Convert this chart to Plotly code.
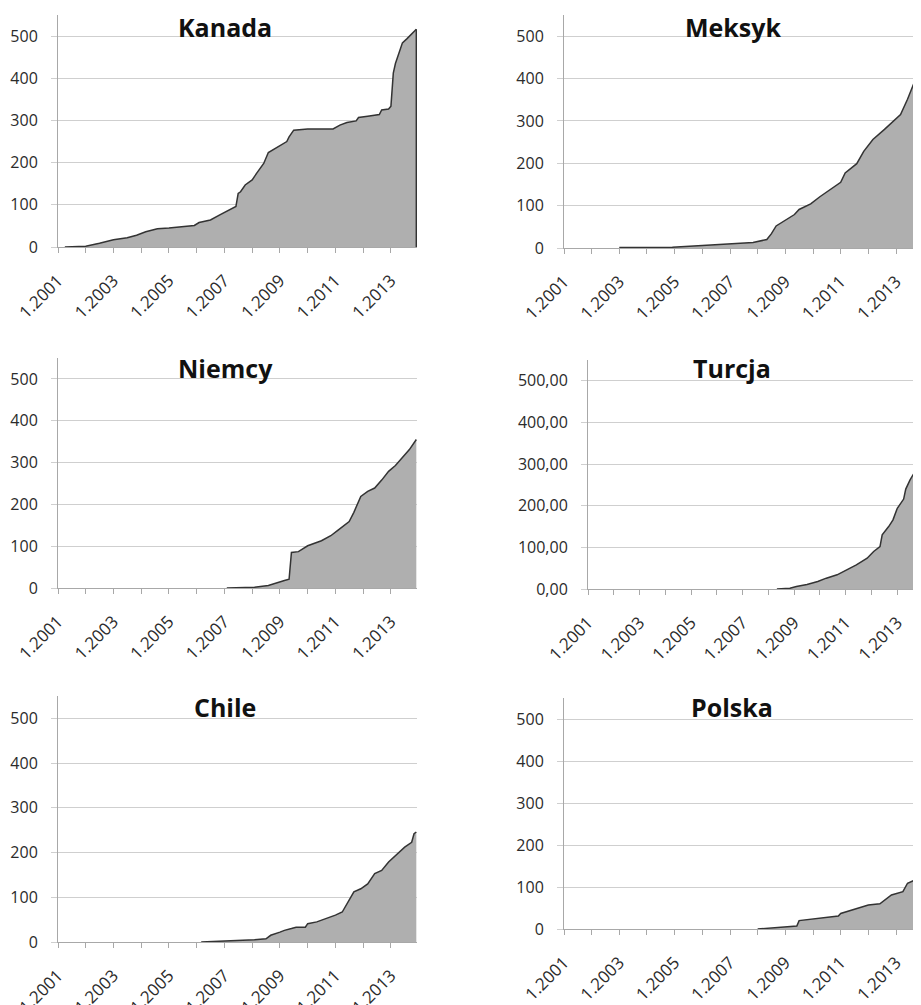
import plotly.graph_objects as go

# ---------------- data ----------------
kanada_dates = ["2001-04", "2002-01", "2002-07", "2003-01", "2003-07", "2003-11", "2004-03", "2004-08",
                "2005-01", "2005-06", "2005-12", "2006-02", "2006-07", "2006-11", "2007-01", "2007-03",
                "2007-06", "2007-07", "2007-08", "2007-10", "2008-01", "2008-03", "2008-06", "2008-08",
                "2008-11", "2009-01", "2009-04", "2009-05", "2009-07", "2010-01", "2010-12", "2011-03",
                "2011-06", "2011-10", "2011-11", "2012-03", "2012-08", "2012-09", "2012-12", "2013-01",
                "2013-02", "2013-03", "2013-05", "2013-06", "2013-08", "2013-10", "2013-12"]
kanada_values = [0, 2, 9, 17, 22, 28, 36, 43,
                 45, 48, 51, 58, 64, 76, 82, 88,
                 96, 127, 131, 147, 159, 175, 198, 224,
                 234, 240, 250, 261, 277, 280, 280, 289,
                 295, 299, 307, 310, 314, 325, 327, 334,
                 412, 435, 467, 484, 494, 506, 516]

meksyk_dates = ["2003-01", "2004-12", "2006-01", "2007-01", "2007-11", "2008-05", "2008-07", "2008-09",
                "2009-01", "2009-05", "2009-07", "2009-12", "2010-04", "2010-08", "2011-01", "2011-03",
                "2011-08", "2011-11", "2012-03", "2012-08", "2012-12", "2013-03", "2013-06", "2013-09",
                "2013-11", "2013-12"]
meksyk_values = [1, 2, 6, 10, 13, 20, 34, 52,
                 66, 79, 91, 104, 121, 137, 155, 177,
                 199, 228, 256, 280, 300, 315, 351, 391,
                 420, 440]

niemcy_dates = ["2007-02", "2008-02", "2008-08", "2008-12", "2009-03", "2009-05", "2009-06", "2009-09",
                "2010-01", "2010-07", "2010-11", "2011-02", "2011-07", "2011-09", "2011-12", "2012-03",
                "2012-06", "2012-09", "2012-12", "2013-03", "2013-07", "2013-09", "2013-12"]
niemcy_values = [0, 2, 6, 14, 18, 21, 85, 87,
                 101, 113, 125, 138, 159, 181, 219, 231,
                 239, 258, 279, 293, 319, 331, 355]

turcja_dates = ["2008-05", "2008-11", "2009-02", "2009-07", "2009-12", "2010-04", "2010-09", "2011-01",
                "2011-06", "2011-11", "2012-02", "2012-05", "2012-06", "2012-09", "2012-11", "2013-01",
                "2013-04", "2013-05", "2013-07", "2013-09", "2013-12"]
turcja_values = [0, 2, 6, 11, 18, 26, 34, 44,
                 58, 74, 90, 102, 130, 150, 166, 194,
                 216, 240, 262, 280, 305]

chile_dates = ["2006-03", "2007-03", "2008-02", "2008-07", "2008-09", "2009-01", "2009-03", "2009-06",
               "2009-08", "2009-12", "2010-01", "2010-05", "2010-09", "2011-01", "2011-04", "2011-06",
               "2011-09", "2011-12", "2012-03", "2012-06", "2012-09", "2012-12", "2013-04", "2013-07",
               "2013-10", "2013-11", "2013-12"]
chile_values = [0, 2, 5, 7, 15, 22, 26, 30,
                33, 33, 41, 45, 52, 60, 67, 86,
                112, 119, 130, 153, 160, 179, 197, 212,
                223, 242, 246]

polska_dates = ["2008-01", "2009-01", "2009-06", "2009-07", "2009-12", "2010-06", "2010-12", "2011-01",
                "2011-06", "2011-10", "2012-01", "2012-06", "2012-08", "2012-11", "2013-04", "2013-06",
                "2013-09", "2013-11", "2013-12"]
polska_values = [0, 4, 7, 20, 23, 28, 31, 37,
                 45, 53, 57, 60, 69, 81, 89, 109,
                 116, 125, 130]

x_tick_dates = ["2001-01-01", "2003-01-01", "2005-01-01", "2007-01-01", "2009-01-01", "2011-01-01", "2013-01-01"]
x_tick_labels = ["1.2001", "1.2003", "1.2005", "1.2007", "1.2009", "1.2011", "1.2013"]
y_tick_values = [0, 100, 200, 300, 400, 500]
y_tick_labels = ["0", "100", "200", "300", "400", "500"]
y_tick_labels_dec = ["0,00", "100,00", "200,00", "300,00", "400,00", "500,00"]

# ---------------- layout (pixels on screen) ----------------
OFF = 8  # page body margin shifts the figure on screen
W, H = 921 - OFF, 1005 - OFF
FONT = "Open Sans"
FILL = "#afafaf"
LINE = "#333333"
GRID = "#cfcfcf"
AXIS = "#a8a8a8"
TXT = "#2b2b2b"

panels = [
    # name, dates, values, x0px, x1px, zero_px, top_px, range_end, tick labels, title center x, title center y
    ("Kanada", kanada_dates, kanada_values, 58, 417, 247, 15, "2013-12-10", y_tick_labels, 225, 27),
    ("Meksyk", meksyk_dates, meksyk_values, 564, 921, 248, 15, "2013-11-26", y_tick_labels, 733, 27),
    ("Niemcy", niemcy_dates, niemcy_values, 58, 417, 588, 358, "2013-12-10", y_tick_labels, 225, 368),
    ("Turcja", turcja_dates, turcja_values, 588, 921, 589, 360, "2013-12-03", y_tick_labels_dec, 732, 368),
    ("Chile", chile_dates, chile_values, 58, 417, 942, 696, "2013-12-10", y_tick_labels, 225, 707),
    ("Polska", polska_dates, polska_values, 564, 921, 929, 698, "2013-11-26", y_tick_labels, 732, 707),
]

fig = go.Figure()
layout = dict(
    width=W, height=H, margin=dict(l=0, r=0, t=0, b=0, autoexpand=False),
    paper_bgcolor="white", plot_bgcolor="white", showlegend=False,
    font=dict(family=FONT, size=16, color=TXT),
)
annotations = []
shapes = []

for i, (name, dates, vals, x0, x1, zpx, tpx, rend, ylabels, tcx, tcy) in enumerate(panels):
    k = "" if i == 0 else str(i + 1)
    fig.add_trace(go.Scatter(
        x=dates, y=vals, mode="lines", fill="tozeroy", fillcolor=FILL,
        line=dict(color=LINE, width=1.5), xaxis="x" + k, yaxis="y" + k, hoverinfo="skip",
    ))
    layout["xaxis" + k] = dict(
        type="date", domain=[(x0 - OFF) / W, min((x1 - OFF) / W, 1.0)], range=["2001-01-01", rend],
        anchor="y" + k, showgrid=False, zeroline=False, automargin=False,
        showline=True, linecolor=AXIS, linewidth=1,
        tickmode="array", tickvals=x_tick_dates, ticktext=x_tick_labels,
        tickangle=-45, ticks="outside", ticklen=5, tickcolor=AXIS,
        ticklabelstandoff=11,
        tickfont=dict(family=FONT, size=17, color=TXT),
        minor=dict(ticks="outside", ticklen=5, tickcolor=AXIS, dtick="M12",
                   tick0="2001-01-01", showgrid=False),
        fixedrange=True,
    )
    layout["yaxis" + k] = dict(
        domain=[1 - (zpx - OFF) / H, 1 - (tpx - OFF) / H], range=[0, 550], anchor="x" + k,
        tickmode="array", tickvals=y_tick_values, ticktext=ylabels,
        showgrid=True, gridcolor=GRID, gridwidth=1, zeroline=False, automargin=False,
        showline=True, linecolor=AXIS, linewidth=1,
        ticks="outside", ticklen=6, tickcolor=GRID,
        ticklabelstandoff=10,
        tickfont=dict(family=FONT, size=16, color=TXT),
        fixedrange=True,
    )
    annotations.append(dict(
        text="<b>" + name + "</b>", x=(tcx - OFF) / W, y=1 - (tcy - OFF) / H,
        xref="paper", yref="paper",
        xanchor="center", yanchor="middle", showarrow=False,
        font=dict(family=FONT, size=25, color="#111111"),
    ))
    if name == "Kanada":
        shapes.append(dict(type="line", xref="x", yref="y", x0=dates[-1], x1=dates[-1],
                           y0=0, y1=vals[-1], line=dict(color=LINE, width=1.5)))

layout["annotations"] = annotations
layout["shapes"] = shapes
fig.update_layout(**layout)
fig.write_html("out.html")
